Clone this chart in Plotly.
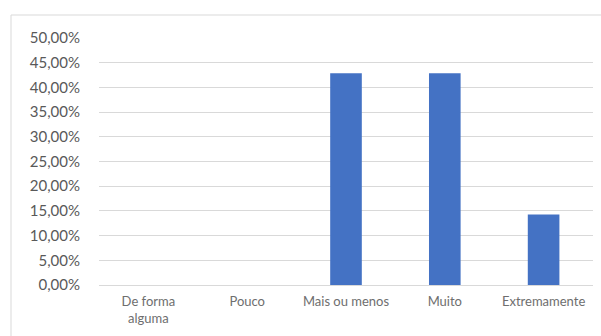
import plotly.graph_objects as go

# Survey responses: share of answers per category
categories = ["De forma<br>alguma", "Pouco", "Mais ou menos", "Muito", "Extremamente"]
shares = [0.0, 0.0, 0.4286, 0.4286, 0.1429]
y_ticks = [0.0, 0.05, 0.10, 0.15, 0.20, 0.25, 0.30, 0.35, 0.40, 0.45, 0.50]

W, H = 601, 336
left, right, top, bottom = 99, 8, 38, 51

fig = go.Figure(
    go.Bar(
        x=categories,
        y=shares,
        marker=dict(color="#4472C4", line=dict(width=0)),
        hoverinfo="x+y",
    )
)

font_family = "Lato, 'Open Sans', sans-serif"
grid = "#d9d9d9"
text_col = "#595959"

fig.update_layout(
    width=W,
    height=H,
    margin=dict(l=left, r=right, t=top, b=bottom, pad=0),
    paper_bgcolor="white",
    plot_bgcolor="white",
    bargap=0.68,
    separators=",.",
    showlegend=False,
    font=dict(family=font_family, color=text_col),
    xaxis=dict(
        showgrid=False,
        showline=False,
        ticks="",
        tickfont=dict(size=13, color="#6e6e6e"),
        ticklabelstandoff=7,
    ),
    yaxis=dict(
        range=[0, 0.5],
        tickvals=y_ticks,
        tickformat=".2%",
        showgrid=True,
        gridcolor=grid,
        gridwidth=1,
        zeroline=True,
        zerolinecolor=grid,
        zerolinewidth=1,
        showline=False,
        ticks="",
        tickfont=dict(size=15, color=text_col),
        ticklabelstandoff=18,
    ),
)

# Chart frame (left and top edges visible, others run off the page)
pw = W - left - right
ph = H - top - bottom
fig.add_shape(
    type="rect",
    xref="paper",
    yref="paper",
    x0=(11 - left) / pw,
    x1=(W + 20 - left) / pw,
    y0=-(H + 20 - (H - bottom)) / ph,
    y1=(H - bottom - 15) / ph,
    line=dict(color=grid, width=1),
    fillcolor="rgba(0,0,0,0)",
    layer="below",
)

fig.write_html("out.html")
